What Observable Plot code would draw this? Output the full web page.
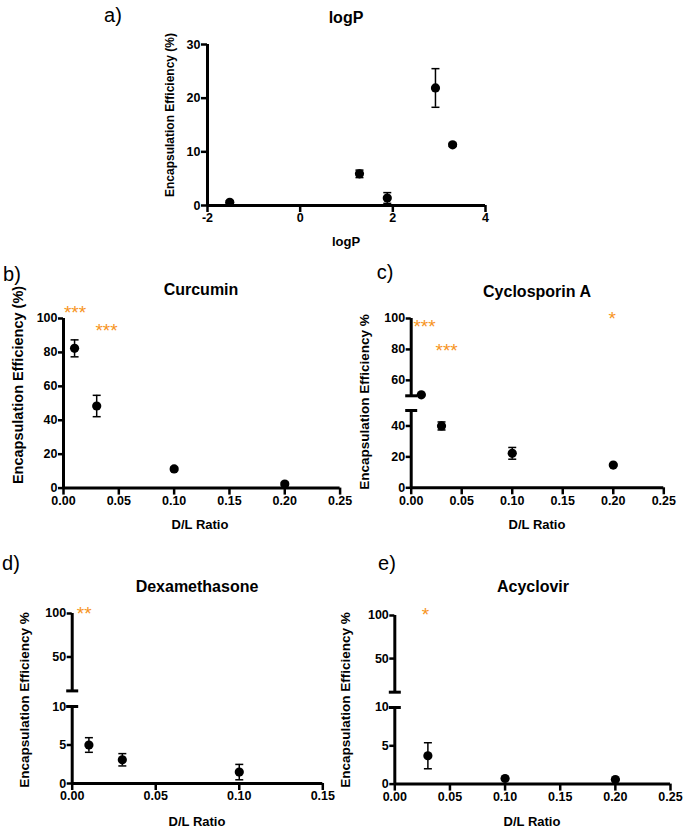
<!DOCTYPE html>
<html>
<head>
<meta charset="utf-8">
<script src="https://cdn.jsdelivr.net/npm/d3@7"></script>
<script src="https://cdn.jsdelivr.net/npm/@observablehq/plot@0.6"></script>
<style>
  body { margin: 0; background: white; }
  #fig { position: relative; width: 685px; height: 828px; overflow: hidden; background: white;
         font-family: 'Liberation Sans', Arial, Helvetica, sans-serif; color: black; }
  .lbl { position: absolute; white-space: nowrap; transform: translate(-50%, -50%); line-height: 1; }
  .title { font-weight: bold; font-size: 16px; }
  .letter { font-size: 20px; }
  .axl { font-weight: bold; font-size: 13px; }
  .ylab { font-weight: bold; font-size: 13.5px; transform: translate(-50%, -50%) rotate(-90deg); }
  .pnl { position: absolute; }
</style>
</head>
<body>
<div id="fig"></div>
<script>
// ---------- data ----------
// a) logP
const logP      = [-1.52, 1.28, 1.88, 2.92, 3.29];
const eeLogP    = [0.6, 5.9, 1.4, 21.9, 11.3];
const errLogP   = [0.3, 0.7, 1.0, 3.6, 0.3];
const ticksLogPX = [-2, 0, 2, 4];
const ticksLogPY = [0, 10, 20, 30];

// b) Curcumin
const dlCur   = [0.01, 0.03, 0.10, 0.20];
const eeCur   = [82.4, 48.4, 11.3, 2.4];
const errCur  = [5.0, 6.3, 1.0, 1.0];
const starCurX = [0.0104, 0.0389];
const starCurY = [106.3, 95.8];
const starCurT = ["***", "***"];

// c) Cyclosporin A
const dlCyc   = [0.01, 0.03, 0.10, 0.20];
const eeCyc   = [50.6, 40.0, 22.3, 14.7];
const errCyc  = [0.4, 2.6, 3.8, 0.5];
const starCycX = [0.0132, 0.035, 0.199];
const starCycY = [98, 82.3, 102.8];
const starCycT = ["***", "***", "*"];

// d) Dexamethasone
const dlDex   = [0.01, 0.03, 0.10];
const eeDex   = [5.0, 3.08, 1.48];
const errDex  = [0.95, 0.8, 1.0];
const starDexX = [0.0072];
const starDexY = [105];
const starDexT = ["**"];

// e) Acyclovir
const dlAcy   = [0.03, 0.10, 0.20];
const eeAcy   = [3.7, 0.73, 0.6];
const errAcy  = [1.7, 0.1, 0.1];
const starAcyX = [0.0278];
const starAcyY = [106.6];
const starAcyT = ["*"];

const ticksDL25 = [0, 0.05, 0.10, 0.15, 0.20, 0.25];
const ticksDL15 = [0, 0.05, 0.10, 0.15];
const ticks100by20 = [0, 20, 40, 60, 80, 100];
const ticksCLow = [0, 20, 40];
const ticksCHigh = [60, 80, 100];
const ticksLow10 = [0, 5, 10];
const ticksHigh100 = [50, 100];

// ---------- helpers ----------
const FONT = "'Liberation Sans', Arial, Helvetica, sans-serif";
const ORANGE = "#f7941d";
const rows = (xs, ys, es) => xs.map((x, i) => ({x, y: ys[i], e: es[i]}));
const starRows = (xs, ys, ts) => xs.map((x, i) => ({x, y: ys[i], t: ts[i]}));
const capSym = {draw(ctx) { ctx.moveTo(-4, 0); ctx.lineTo(4, 0); }};
const breakSym = {draw(ctx) { ctx.moveTo(-6, 0); ctx.lineTo(6, 0); }};

// one segment of a (possibly broken) y axis, drawn as its own Plot
function segmentPlot(cfg, seg, idx, nSeg, data, stars) {
  const isBottom = idx === 0;
  const isTop = idx === nSeg - 1;
  const mT = isTop ? 22 : 8;
  const mB = isBottom ? 24 : 8;
  const frameH = seg.bottom - seg.top;
  const x0 = cfg.xDomain[0];
  const segData = data.filter(d => d.y >= seg.lo && d.y <= seg.hi);
  const marks = [];
  marks.push(Plot.ruleX([{lo: seg.lo, hi: seg.hi}], {x: () => x0, y1: "lo", y2: "hi", strokeWidth: 3}));
  if (nSeg > 1) {
    const brk = isBottom ? [seg.hi] : [seg.lo];
    marks.push(Plot.dot(brk, {x: () => x0, y: d => d, symbol: breakSym, stroke: "black", strokeWidth: 3, fill: "none"}));
  }
  if (isBottom) {
    marks.push(Plot.ruleY([seg.lo], {strokeWidth: 3}));
    marks.push(Plot.axisX({ticks: cfg.xTicks, tickFormat: cfg.xFmt, tickSize: 7, tickPadding: 1, strokeWidth: 2.5, label: null, fontSize: 12.5, fontWeight: "bold"}));
  } else {
    marks.push(Plot.axisX({ticks: [], label: null}));
  }
  marks.push(Plot.axisY({ticks: seg.ticks, tickSize: cfg.yTickSize || 5, tickPadding: 1, strokeWidth: 2.5, label: null, fontSize: 12.5, fontWeight: "bold"}));
  // error bars
  marks.push(Plot.ruleX(segData, {x: "x", y1: d => d.y - d.e, y2: d => d.y + d.e, strokeWidth: 1.5}));
  marks.push(Plot.dot(segData, {x: "x", y: d => d.y + d.e, symbol: capSym, stroke: "black", strokeWidth: 1.5, fill: "none"}));
  marks.push(Plot.dot(segData, {x: "x", y: d => d.y - d.e, symbol: capSym, stroke: "black", strokeWidth: 1.5, fill: "none"}));
  marks.push(Plot.dot(segData, {x: "x", y: "y", r: 4.6, fill: "black", stroke: "none"}));
  if (isTop && stars) {
    marks.push(Plot.text(stars, {x: "x", y: "y", text: "t", fill: ORANGE, fontSize: 19, fontWeight: "normal", dy: 5}));
  }
  const chart = Plot.plot({
    width: cfg.width, height: mT + frameH + mB,
    marginLeft: cfg.mL, marginRight: cfg.width - cfg.mL - cfg.frameW, marginTop: mT, marginBottom: mB,
    x: {domain: cfg.xDomain},
    y: {domain: [seg.lo, seg.hi]},
    style: {background: "transparent", overflow: "visible", fontFamily: FONT, fontSize: "12.5px", fontWeight: "bold", color: "black"},
    marks
  });
  const wrap = document.createElement("div");
  wrap.className = "pnl";
  wrap.style.left = cfg.left + "px";
  wrap.style.top = (seg.top - mT) + "px";
  wrap.appendChild(chart);
  document.getElementById("fig").appendChild(wrap);
}

function panel(cfg) {
  const data = rows(cfg.xs, cfg.ys, cfg.es);
  cfg.segments.forEach((seg, i) => segmentPlot(cfg, seg, i, cfg.segments.length, data, cfg.stars));
}

function label(text, cls, x, y, size) {
  const el = document.createElement("div");
  el.className = "lbl " + cls;
  el.textContent = text;
  el.style.left = x + "px";
  el.style.top = y + "px";
  if (size) el.style.fontSize = size + "px";
  document.getElementById("fig").appendChild(el);
}

// ---------- panels ----------
panel({left: 130, mL: 77, width: 380, frameW: 278,
  xs: logP, ys: eeLogP, es: errLogP,
  xDomain: [-2, 4], xTicks: ticksLogPX, xFmt: d => String(d), yTickSize: 6,
  segments: [{lo: 0, hi: 30, top: 44, bottom: 205, ticks: ticksLogPY}]});

panel({left: 0, mL: 63, width: 350, frameW: 276.6,
  xs: dlCur, ys: eeCur, es: errCur,
  xDomain: [0, 0.25], xTicks: ticksDL25, xFmt: d3.format(".2f"),
  segments: [{lo: 0, hi: 100, top: 317.7, bottom: 487.3, ticks: ticks100by20}],
  stars: starRows(starCurX, starCurY, starCurT)});

panel({left: 345, mL: 65.7, width: 340, frameW: 252.6,
  xs: dlCyc, ys: eeCyc, es: errCyc,
  xDomain: [0, 0.25], xTicks: ticksDL25, xFmt: d3.format(".2f"),
  segments: [
    {lo: 0, hi: 50, top: 410, bottom: 487.3, ticks: ticksCLow},
    {lo: 50, hi: 100, top: 317.7, bottom: 395, ticks: ticksCHigh}],
  stars: starRows(starCycX, starCycY, starCycT)});

panel({left: 0, mL: 71.7, width: 340, frameW: 250.6,
  xs: dlDex, ys: eeDex, es: errDex,
  xDomain: [0, 0.15], xTicks: ticksDL15, xFmt: d3.format(".2f"),
  segments: [
    {lo: 0, hi: 10, top: 705.7, bottom: 782.7, ticks: ticksLow10},
    {lo: 11, hi: 100, top: 613.3, bottom: 690.7, ticks: ticksHigh100}],
  stars: starRows(starDexX, starDexY, starDexT)});

panel({left: 340, mL: 54.3, width: 345, frameW: 275.7,
  xs: dlAcy, ys: eeAcy, es: errAcy,
  xDomain: [0, 0.25], xTicks: ticksDL25, xFmt: d3.format(".2f"),
  segments: [
    {lo: 0, hi: 10, top: 706.7, bottom: 783.3, ticks: ticksLow10},
    {lo: 11, hi: 100, top: 615, bottom: 691.7, ticks: ticksHigh100}],
  stars: starRows(starAcyX, starAcyY, starAcyT)});

// ---------- text ----------
label("a)", "letter", 113, 15);
label("b)", "letter", 12, 274);
label("c)", "letter", 385, 272);
label("d)", "letter", 11, 563);
label("e)", "letter", 387, 563);

label("logP", "title", 346, 18);
label("Curcumin", "title", 201, 290);
label("Cyclosporin A", "title", 537, 292);
label("Dexamethasone", "title", 197, 587);
label("Acyclovir", "title", 533, 587);

label("logP", "axl", 346, 241);
label("D/L Ratio", "axl", 200, 524);
label("D/L Ratio", "axl", 537, 524);
label("D/L Ratio", "axl", 197, 821);
label("D/L Ratio", "axl", 532, 821);

label("Encapsulation Efficiency (%)", "ylab", 170, 115, 12);
label("Encapsulation Efficiency (%)", "ylab", 18, 385, 14.5);
label("Encapsulation Efficiency %", "ylab", 365, 402);
label("Encapsulation Efficiency %", "ylab", 25, 700);
label("Encapsulation Efficiency %", "ylab", 346, 700);
</script>
</body>
</html>
